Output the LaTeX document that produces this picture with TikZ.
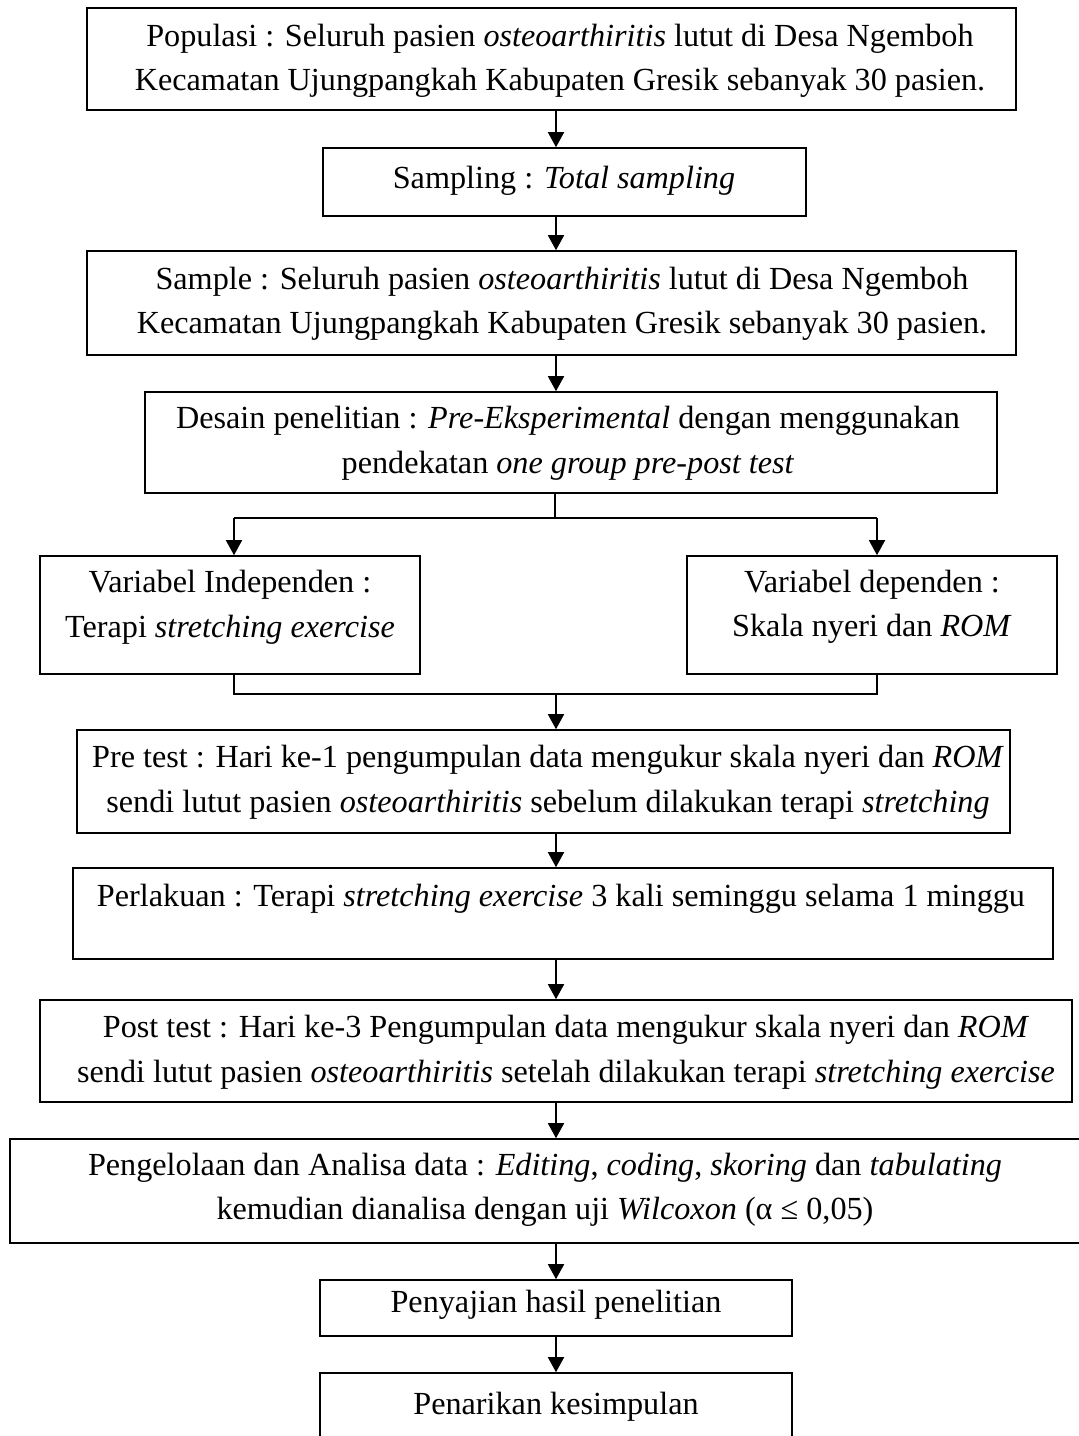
\documentclass[tikz,border=0pt]{standalone}
\usepackage{fontspec}
\setmainfont{Liberation Serif}
\usetikzlibrary{arrows.meta,calc}
\begin{document}
\begin{tikzpicture}[x=1pt,y=-1pt,
  box/.style={draw, line width=1.6pt, inner sep=0pt},
  txt/.style={align=center, inner sep=0pt, font=\fontsize{32.2}{44.5}\selectfont},
  arr/.style={line width=1.6pt, -{Triangle[width=16pt,length=15pt]}},
  thinline/.style={line width=1.2pt},
  midline/.style={line width=1.6pt}]
\useasboundingbox (0,0) rectangle (1079,1436);
\clip (0,0) rectangle (1079,1436);
\coordinate (ax) at (556,0);
% boxes
\node[box, minimum width=929pt, minimum height=102pt] (b1) at (551.5,59) {};
\node[box, minimum width=483pt, minimum height=68pt] (b2) at (564.5,182) {};
\node[box, minimum width=929pt, minimum height=104pt] (b3) at (551.5,303) {};
\node[box, minimum width=852pt, minimum height=101pt] (b4) at (571,442.5) {};
\node[box, minimum width=380pt, minimum height=118pt] (vi) at (230,615) {};
\node[box, minimum width=370pt, minimum height=118pt] (vd) at (872,615) {};
\node[box, minimum width=933pt, minimum height=103pt] (b7) at (543.5,781.5) {};
\node[box, minimum width=980pt, minimum height=91pt] (b8) at (563,913.5) {};
\node[box, minimum width=1032pt, minimum height=102pt] (b9) at (556,1051) {};
\node[box, minimum width=1080pt, minimum height=104pt] (b10) at (550,1191) {};
\node[box, minimum width=472pt, minimum height=56pt] (b11) at (556,1308) {};
\node[box, minimum width=472pt, minimum height=77pt] (b12) at (556,1411.5) {};
% texts
\node[txt] (t1) at (560,61) {Populasi : Seluruh pasien \textit{osteoarthiritis} lutut di Desa Ngemboh\\Kecamatan Ujungpangkah Kabupaten Gresik sebanyak 30 pasien.};
\node[txt] (t2) at (564,181) {Sampling : \textit{Total sampling}};
\node[txt] (t3) at (562,304) {Sample : Seluruh pasien \textit{osteoarthiritis} lutut di Desa Ngemboh\\Kecamatan Ujungpangkah Kabupaten Gresik sebanyak 30 pasien.};
\node[txt] (t4) at (568,443) {Desain penelitian : \textit{Pre-Eksperimental} dengan menggunakan\\pendekatan \textit{one group pre-post test}};
\node[txt] (t5) at (230,607) {Variabel Independen :\\Terapi \textit{stretching exercise}};
\node[txt] (t6) at (872,607) {Variabel dependen :\\Skala nyeri dan \textit{ROM}};
\node[txt] (t7) at (548,782) {Pre test : Hari ke-1 pengumpulan data mengukur skala nyeri dan \textit{ROM}\\sendi lutut pasien \textit{osteoarthiritis} sebelum dilakukan terapi \textit{stretching}};
\node[txt] (t8) at (561,899) {Perlakuan : Terapi \textit{stretching exercise} 3 kali seminggu selama 1 minggu};
\node[txt] (t9) at (566,1052) {Post test : Hari ke-3 Pengumpulan data mengukur skala nyeri dan \textit{ROM}\\sendi lutut pasien \textit{osteoarthiritis} setelah dilakukan terapi \textit{stretching exercise}};
\node[txt] (t10) at (545,1190) {Pengelolaan dan Analisa data : \textit{Editing}, \textit{coding}, \textit{skoring} dan \textit{tabulating}\\kemudian dianalisa dengan uji \textit{Wilcoxon} (α ≤ 0,05)};
\node[txt] (t11) at (556,1305) {Penyajian hasil penelitian};
\node[txt] (t12) at (556,1407) {Penarikan kesimpulan};
% connectors
\draw[arr] (b1.south -| ax) -- (b2.north -| ax);
\draw[arr] (b2.south -| ax) -- (b3.north -| ax);
\draw[arr] (b3.south -| ax) -- (b4.north -| ax);
\coordinate (br) at (555,518);
\coordinate (bl) at (234,518);
\coordinate (brr) at (877,518);
\draw[thinline] (b4.south -| br) -- (br);
\draw[midline] (bl) -- (brr);
\draw[arr] (bl) -- (bl |- vi.north);
\draw[arr] (brr) -- (brr |- vd.north);
\coordinate (ml) at (234,694);
\coordinate (mr) at (877,694);
\draw[midline] (vi.south -| ml) -- (ml) -- (mr) -- (vd.south -| mr);
\draw[arr] (ml -| ax) -- (b7.north -| ax);
\draw[arr] (b7.south -| ax) -- (b8.north -| ax);
\draw[arr] (b8.south -| ax) -- (b9.north -| ax);
\draw[arr] (b9.south -| ax) -- (b10.north -| ax);
\draw[arr] (b10.south -| ax) -- (b11.north -| ax);
\draw[arr] (b11.south -| ax) -- (b12.north -| ax);
\end{tikzpicture}
\end{document}
